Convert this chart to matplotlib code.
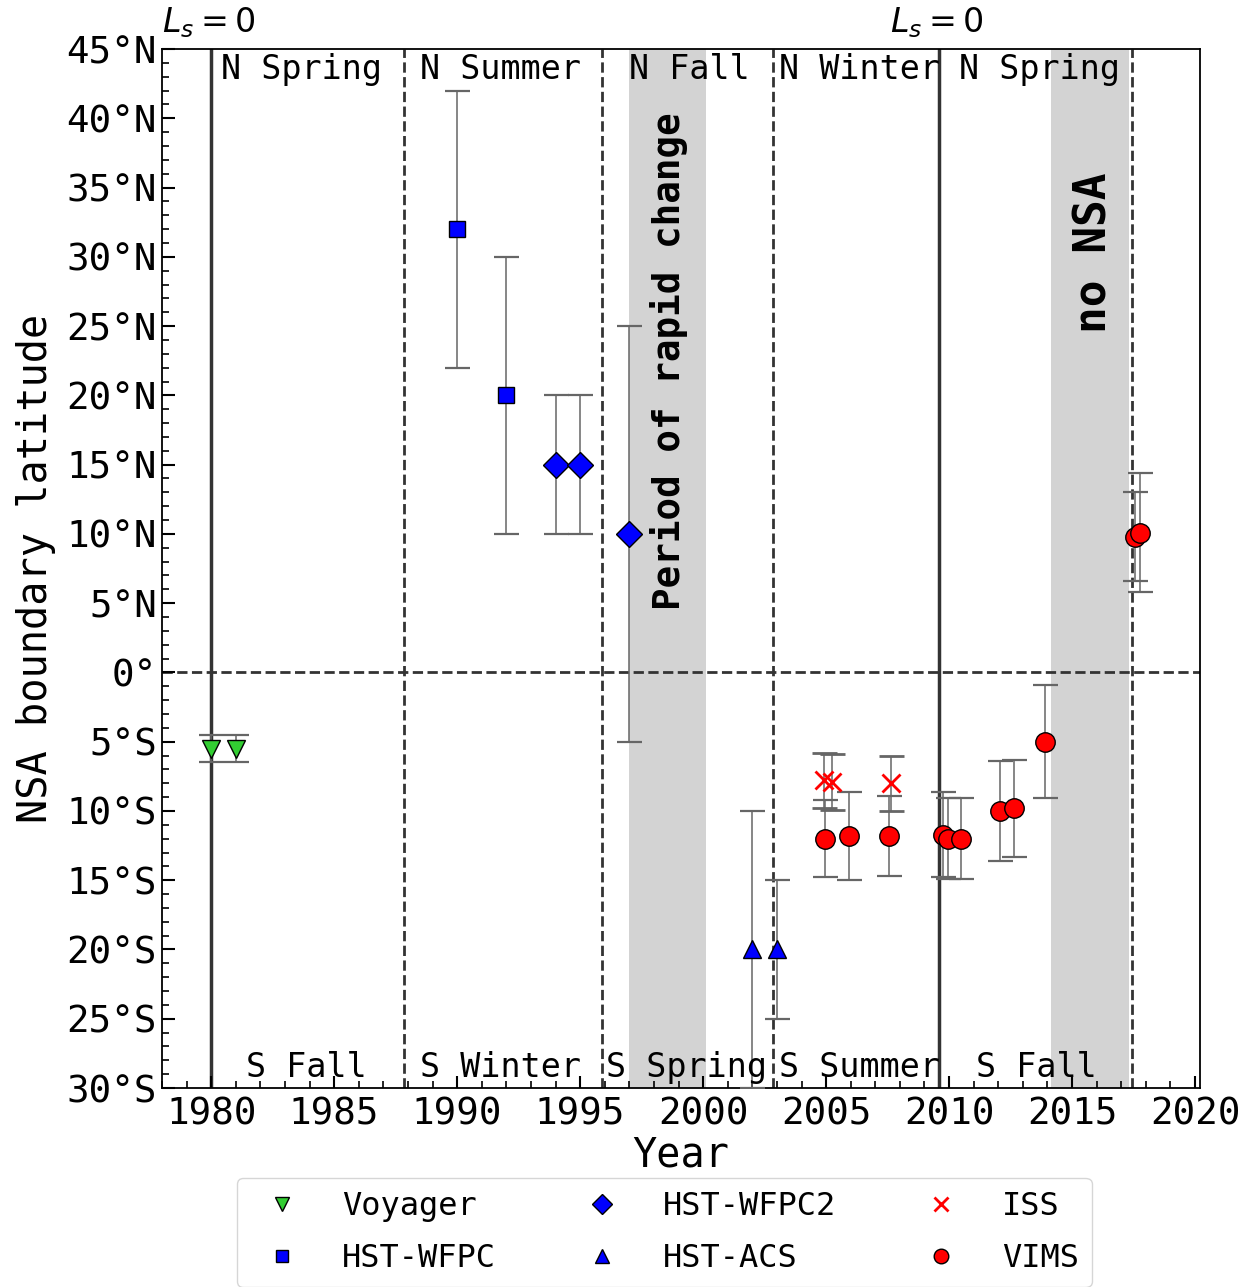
import matplotlib
matplotlib.use('Agg')
import matplotlib.pyplot as plt
from matplotlib.ticker import MultipleLocator, FuncFormatter

plt.rcParams['font.family'] = 'DejaVu Sans Mono'
plt.rcParams['mathtext.fontset'] = 'dejavusans'

# data
voy_x = [1980.0, 1981.0]
voy_y = [-5.5, -5.5]
voy_e = [1.0, 1.0]

wfpc_x = [1990.0, 1992.0]
wfpc_y = [32, 20]
wfpc_e = [10, 10]

wfpc2_x = [1994.0, 1995.0, 1997.0]
wfpc2_y = [15, 15, 10]
wfpc2_e = [5, 5, 15]

acs_x = [2002.0, 2003.0]
acs_y = [-20, -20]
acs_e = [10, 5]

iss_x = [2004.9, 2005.25, 2007.65]
iss_y = [-7.8, -7.9, -8.0]
iss_e = [2.0, 2.0, 2.0]

vims_x = [2004.95, 2005.95, 2007.55, 2009.75, 2009.95, 2010.5, 2012.05, 2012.65, 2013.9, 2017.55, 2017.75]
vims_y = [-12.0, -11.8, -11.8, -11.7, -12.0, -12.0, -10.0, -9.8, -5.0, 9.8, 10.1]
vims_e = [2.8, 3.2, 2.9, 3.1, 2.9, 2.9, 3.6, 3.5, 4.1, 3.2, 4.3]

names = ['Voyager', 'HST-WFPC', 'HST-WFPC2', 'HST-ACS', 'ISS', 'VIMS']

equinox = [1980.0, 2009.6]
solstice_eq = [1987.85, 1995.9, 2002.85, 2017.45]
shade = [(1997.0, 2000.1), (2014.15, 2017.3)]

top_labels = [(1980.4, 'N Spring'), (1988.5, 'N Summer'), (1997.0, 'N Fall'),
              (2003.1, 'N Winter'), (2010.4, 'N Spring')]
bot_labels = [(1981.4, 'S Fall'), (1988.5, 'S Winter'), (1996.05, 'S Spring'),
              (2003.1, 'S Summer'), (2011.1, 'S Fall')]

fig = plt.figure(figsize=(12.51, 12.87), dpi=100)
ax = fig.add_axes([0.1295, 0.1546, 0.8297, 0.8073])

for a, b in shade:
    ax.axvspan(a, b, color='lightgray', zorder=0, lw=0)
for x in equinox:
    ax.axvline(x, color='0.2', lw=2.5, zorder=1)
for x in solstice_eq:
    ax.axvline(x, color='0.2', lw=2, ls='--', zorder=1)
ax.axhline(0, color='0.2', lw=2, ls='--', zorder=1)

ekw = dict(ls='none', ecolor='0.4', elinewidth=1.1, capsize=9, capthick=1.6, zorder=3)
hs = []
hs.append(ax.errorbar(voy_x, voy_y, yerr=voy_e, marker='v', ms=13, mfc='limegreen', mec='k', **ekw)[0])
hs.append(ax.errorbar(wfpc_x, wfpc_y, yerr=wfpc_e, marker='s', ms=12, mfc='blue', mec='k', **ekw)[0])
hs.append(ax.errorbar(wfpc2_x, wfpc2_y, yerr=wfpc2_e, marker='D', ms=13, mfc='blue', mec='k', **ekw)[0])
hs.append(ax.errorbar(acs_x, acs_y, yerr=acs_e, marker='^', ms=13, mfc='blue', mec='k', **ekw)[0])
hs.append(ax.errorbar(iss_x, iss_y, yerr=iss_e, marker='x', ms=13, mew=2, color='red', **ekw)[0])
hs.append(ax.errorbar(vims_x, vims_y, yerr=vims_e, marker='o', ms=14, mfc='red', mec='k', **ekw)[0])

for x, s in top_labels:
    ax.text(x, 43.5, s, fontsize=24, va='center', ha='left', zorder=4)
for x, s in bot_labels:
    ax.text(x, -28.5, s, fontsize=24, va='center', ha='left', zorder=4)

ax.text(1998.6, 22.5, 'Period of rapid change', rotation=90, fontsize=27,
        fontweight='bold', ha='center', va='center', zorder=4)
ax.text(2015.9, 30.3, 'no NSA', rotation=90, fontsize=32,
        fontweight='bold', ha='center', va='center', zorder=4)

for x in equinox:
    ax.text(x - 0.1, 46.9, '$L_s = 0$', fontsize=24, ha='center', va='center', clip_on=False)

ax.set_xlim(1978.0, 2020.2)
ax.set_ylim(-30, 45)
ax.xaxis.set_major_locator(MultipleLocator(5))
ax.xaxis.set_minor_locator(MultipleLocator(1))
ax.yaxis.set_major_locator(MultipleLocator(5))
ax.yaxis.set_minor_locator(MultipleLocator(1))


def latfmt(v, pos):
    v = int(round(v))
    if v > 0:
        return f'{v}°N'
    if v < 0:
        return f'{-v}°S'
    return '0°'


ax.yaxis.set_major_formatter(FuncFormatter(latfmt))
ax.tick_params(which='both', direction='in', labelsize=27)
ax.tick_params(axis='x', pad=6)
ax.tick_params(which='major', length=9, width=1.5)
ax.tick_params(which='minor', length=5, width=1.2)
for s in ax.spines.values():
    s.set_linewidth(1.3)

ax.set_xlabel('Year', fontsize=29, labelpad=2)
ax.set_ylabel('NSA boundary latitude', fontsize=29, labelpad=8)

fig.legend(hs, names, loc='upper center', bbox_to_anchor=(0.531, 0.0847),
           ncol=3, fontsize=23, markerscale=0.75, columnspacing=2.3, handletextpad=0.9,
           labelspacing=0.67, borderpad=0.4, borderaxespad=0, frameon=True)

fig.savefig('out.png', dpi=100)
